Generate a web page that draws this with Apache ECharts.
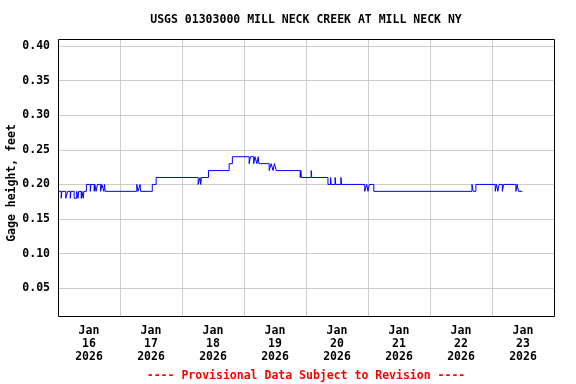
<!DOCTYPE html>
<html>
<head>
<meta charset="utf-8">
<script src="https://cdn.jsdelivr.net/npm/echarts@6/dist/echarts.min.js"></script>
<style>html,body{margin:0;padding:0;background:#fff;}#c{width:576px;height:384px;}</style>
</head>
<body>
<div id="c"></div>
<script>
// Change points of the gage height record (value holds until next time)
const timestamps = [
  '2026-01-16 00:00','2026-01-16 01:15','2026-01-16 01:30','2026-01-16 03:00','2026-01-16 03:45',
  '2026-01-16 04:45','2026-01-16 05:00','2026-01-16 06:15','2026-01-16 07:15','2026-01-16 07:45',
  '2026-01-16 08:00','2026-01-16 09:00','2026-01-16 09:15','2026-01-16 09:45','2026-01-16 10:00',
  '2026-01-16 11:00','2026-01-16 12:30','2026-01-16 12:45','2026-01-16 14:00','2026-01-16 14:15',
  '2026-01-16 14:45','2026-01-16 15:15','2026-01-16 16:30','2026-01-16 17:00','2026-01-16 17:45',
  '2026-01-16 18:00','2026-01-16 18:15',
  '2026-01-17 06:30','2026-01-17 07:00','2026-01-17 07:45','2026-01-17 08:00',
  '2026-01-17 12:30','2026-01-17 14:00',
  '2026-01-18 06:15','2026-01-18 07:00','2026-01-18 07:15','2026-01-18 07:30',
  '2026-01-18 10:15','2026-01-18 18:15','2026-01-18 19:30',
  '2026-01-19 02:00','2026-01-19 02:30','2026-01-19 03:45','2026-01-19 04:15','2026-01-19 05:00',
  '2026-01-19 05:30','2026-01-19 05:45','2026-01-19 09:45','2026-01-19 10:30','2026-01-19 11:15',
  '2026-01-19 11:45','2026-01-19 12:30','2026-01-19 21:45','2026-01-19 22:00','2026-01-19 22:15',
  '2026-01-20 02:00','2026-01-20 02:15','2026-01-20 08:30','2026-01-20 09:30','2026-01-20 09:45',
  '2026-01-20 11:15','2026-01-20 11:30','2026-01-20 13:30','2026-01-20 13:45',
  '2026-01-20 22:45','2026-01-20 23:30','2026-01-21 00:00','2026-01-21 00:30','2026-01-21 02:15',
  '2026-01-22 16:15','2026-01-22 16:45','2026-01-22 17:45',
  '2026-01-23 01:15','2026-01-23 01:45','2026-01-23 02:15','2026-01-23 02:45','2026-01-23 04:00',
  '2026-01-23 04:30','2026-01-23 09:15','2026-01-23 09:45','2026-01-23 10:15','2026-01-23 11:45'
];
const gageHeight = [
  0.19,0.18,0.19,0.18,0.19,
  0.18,0.19,0.18,0.19,0.18,
  0.19,0.18,0.19,0.18,0.19,
  0.20,0.19,0.20,0.19,0.20,
  0.19,0.20,0.19,0.20,0.19,
  0.20,0.19,
  0.20,0.19,0.20,0.19,
  0.20,0.21,
  0.20,0.21,0.20,0.21,
  0.22,0.23,0.24,
  0.23,0.24,0.23,0.24,0.23,
  0.24,0.23,0.22,0.23,0.22,
  0.23,0.22,0.21,0.22,0.21,
  0.22,0.21,0.20,0.21,0.20,
  0.21,0.20,0.21,0.20,
  0.19,0.20,0.19,0.20,0.19,
  0.20,0.19,0.20,
  0.19,0.20,0.19,0.20,0.19,
  0.20,0.19,0.20,0.19,0.19
];
const dayLabels = ['Jan\n16\n2026','Jan\n17\n2026','Jan\n18\n2026','Jan\n19\n2026',
                   'Jan\n20\n2026','Jan\n21\n2026','Jan\n22\n2026','Jan\n23\n2026'];
const yTicks = [0.05,0.10,0.15,0.20,0.25,0.30,0.35,0.40];
const titleText = 'USGS 01303000 MILL NECK CREEK AT MILL NECK NY';
const yName = 'Gage height, feet';
const footText = '---- Provisional Data Subject to Revision ----';

const FONT = '"DejaVu Sans Mono", "Liberation Mono", monospace';
const chart = echarts.init(document.getElementById('c'), null, {renderer: 'canvas'});
const DAY = 86400000;
chart.setOption({
  animation: false,
  backgroundColor: '#ffffff',
  grid: {left: 58, top: 39, width: 496, height: 277, show: false},
  xAxis: [
    {type: 'time', min: '2026-01-16 00:00', max: '2026-01-24 00:00',
     minInterval: DAY, maxInterval: DAY,
     axisLine: {show: false}, axisTick: {show: false}, axisLabel: {show: false},
     splitLine: {show: true, showMinLine: false, showMaxLine: false,
                 lineStyle: {color: '#cccccc', width: 1}}},
    {type: 'category', data: dayLabels, position: 'bottom', boundaryGap: true,
     axisLine: {show: false}, axisTick: {show: false}, splitLine: {show: false},
     axisLabel: {show: true, interval: 0, margin: 9, color: '#000', fontFamily: FONT,
                 fontWeight: 'bold', fontSize: 11.5, lineHeight: 12.7}}
  ],
  yAxis: [
    {type: 'value', min: 0.01, max: 0.41,
     axisLine: {show: false}, axisTick: {show: false}, axisLabel: {show: false},
     splitLine: {show: false}}
  ],
  graphic: [
    {type: 'text', x: 306, y: 20, style: {text: titleText,
      font: 'bold 11.5px ' + FONT, fill: '#000', align: 'center', verticalAlign: 'middle'}},
    {type: 'text', x: 12, y: 183, rotation: Math.PI / 2, style: {text: yName,
      font: 'bold 11.5px ' + FONT, fill: '#000', align: 'center', verticalAlign: 'middle'}},
    {type: 'text', x: 306, y: 376, style: {text: footText,
      font: 'bold 11.5px ' + FONT, fill: '#ff0000', align: 'center', verticalAlign: 'middle'}},
    {type: 'rect', z: 100, silent: true, shape: {x: 58.5, y: 39.5, width: 496, height: 277},
     style: {fill: 'none', stroke: '#000000', lineWidth: 1}}
  ],
  series: [
    {type: 'line', name: 'grid', data: [], z: 1, xAxisIndex: 0, yAxisIndex: 0,
     markLine: {silent: true, symbol: 'none', animation: false, z: 1,
       lineStyle: {color: '#cccccc', type: 'solid', width: 1},
       label: {show: true, position: 'start', distance: 8, color: '#000',
               fontFamily: FONT, fontWeight: 'bold', fontSize: 11.5,
               formatter: p => p.value.toFixed(2)},
       emphasis: {disabled: true},
       data: yTicks.map(v => ({yAxis: v}))}},
    {type: 'line', name: 'Gage height', z: 10, xAxisIndex: 0, yAxisIndex: 0,
     step: 'end', showSymbol: false, symbol: 'none',
     lineStyle: {color: '#0000ff', width: 1},
     data: timestamps.map((t, i) => [t, gageHeight[i]])}
  ]
});
</script>
</body>
</html>
